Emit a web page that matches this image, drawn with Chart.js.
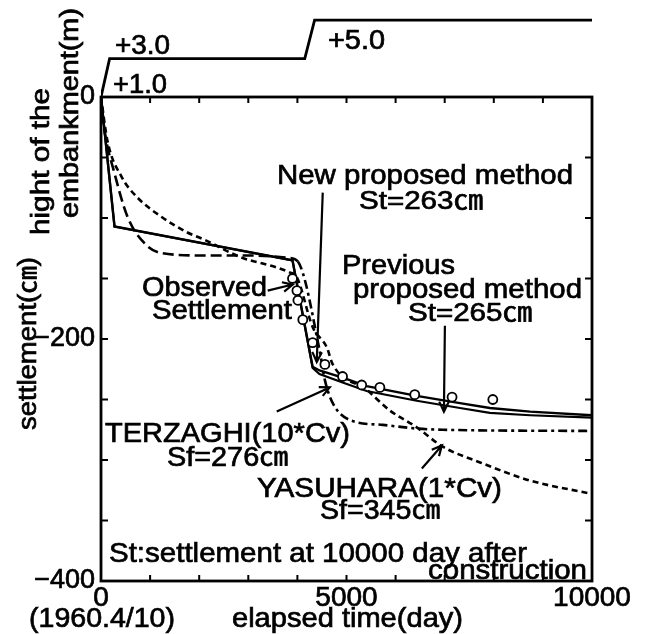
<!DOCTYPE html>
<html>
<head>
<meta charset="utf-8">
<script src="https://cdn.jsdelivr.net/npm/chart.js@4.4.1/dist/chart.umd.min.js"></script>
<style>
html, body { margin: 0; padding: 0; background: #fff; }
#wrap { width: 649px; height: 634px; }
</style>
</head>
<body>
<div id="wrap"><canvas id="chart" width="649" height="634"></canvas></div>
<script>
// settlement curves (day, cm)
const newDays = [0, 275, 3900, 4310, 4450, 4920, 5410, 6430, 7310, 7920, 8740, 10000];
const newCm = [0, -107, -135, -223, -226, -232, -239, -247, -253, -257, -260, -263];

const prevDays = [0, 275, 3900, 4310, 4450, 4920, 5410, 6430, 7310, 7920, 8740, 10000];
const prevCm = [0, -107, -135, -224, -229, -236, -243, -251, -257, -261, -263, -265];

const terzDays = [0, 70, 275, 540, 890, 1230, 2110, 3030, 3840, 4010, 4450, 4560, 4720, 5070, 5740, 6430, 6960, 10000];
const terzCm = [0, -27, -63, -99, -121, -129, -131, -131, -133, -136, -209, -234, -253, -267, -271, -274, -275, -276];

const yasuDays = [0, 130, 420, 740, 1230, 1760, 2110, 2820, 3840, 3990, 4310, 4600, 4720, 5410, 5880, 6430, 6960, 7720, 8740, 10000];
const yasuCm = [0, -36, -66, -83, -99, -112, -118, -132, -145, -149, -190, -207, -221, -242, -259, -273, -289, -302, -317, -328];

const obsDays = [3900, 3990, 4010, 4110, 4310, 4560, 4920, 5310, 5680, 6390, 7150, 7980];
const obsCm = [-150, -160, -168, -184, -203, -221, -231, -238, -240, -246, -248, -250];

// embankment height (m above ground)
const embDays = [0, 175, 4150, 4350, 10000];
const embHeight = [0, 2.0, 2.0, 4.0, 4.0];

// axes
const xTickLabels = [0, 5000, 10000];
const yTickLabels = [0, -200, -400];
const xMinorTicks = [1000, 2000, 3000, 4000, 5000, 6000, 7000, 8000, 9000];
const yMinorTicks = [-50, -100, -150, -200, -250, -300, -350];

const FONT = '"Liberation Sans", Arial, "Noto Sans CJK JP", sans-serif';

function pts(xs, ys) {
    return xs.map((x, i) => ({ x: x, y: ys[i] }));
}

// annotation arrows in data units: [fromDay, fromCm, toDay, toCm]
const arrows = [
    [4516, -79, 4394, -219],
    [7004, -189, 6984, -260],
    [3579, -260, 4659, -240],
    [6535, -307, 6943, -288],
    [3395, -160, 3904, -155]
];

// text: [str, left, baseline, width, size]
const labels = [
    ["New proposed method", 277, 184, 296, 28],
    ["St=263㎝", 359, 209, 124, 26],
    ["Previous", 342, 274, 113, 28],
    ["proposed method", 353, 298, 229, 28],
    ["St=265㎝", 408, 321, 124, 26],
    ["Observed", 142, 296, 125, 27],
    ["Settlement", 152, 319, 140, 27],
    ["TERZAGHI(10*Cv)", 105, 442, 245, 28],
    ["Sf=276㎝", 167, 466, 121, 27],
    ["YASUHARA(1*Cv)", 257, 497, 245, 28],
    ["Sf=345㎝", 320, 519, 120, 27],
    ["St:settlement at 10000 day after", 109, 562, 418, 28],
    ["construction", 428, 579, 159, 28],
    ["+3.0", 115, 54, 55, 27],
    ["+1.0", 113, 93, 54, 27],
    ["+5.0", 328, 49, 57, 27],
    ["elapsed time(day)", 232, 627, 231, 28],
    ["(1960.4/10)", 29, 627, 146, 28]
];
// rotated titles: [str, baselineX, startY, length, size]
const vLabels = [
    ["settlement(㎝)", 36, 430, 173, 25],
    ["hight of the", 49, 235, 147, 25],
    ["embankment(m)", 78, 218, 210, 25]
];

function fitText(ctx, str, x, y, w, size, rot) {
    ctx.save();
    ctx.font = size + 'px ' + FONT;
    ctx.textAlign = 'left';
    ctx.textBaseline = 'alphabetic';
    ctx.fillStyle = '#000';
    ctx.strokeStyle = '#000';
    ctx.lineWidth = 0.7;
    const m = ctx.measureText(str).width;
    ctx.translate(x, y);
    if (rot) ctx.rotate(-Math.PI / 2);
    ctx.scale(w / m, 1);
    ctx.fillText(str, 0, 0);
    ctx.strokeText(str, 0, 0);
    ctx.restore();
}

const framePlugin = {
    id: 'frame',
    beforeDatasetsDraw(chart) {
        const ctx = chart.ctx;
        const sx = chart.scales.x, sy = chart.scales.y;
        const L = sx.getPixelForValue(0), R = sx.getPixelForValue(10000);
        const T = sy.getPixelForValue(0), B = sy.getPixelForValue(-400);
        ctx.save();
        ctx.strokeStyle = '#000';
        ctx.lineWidth = 2.8;
        ctx.strokeRect(L, T, R - L, B - T);
        ctx.lineWidth = 2;
        ctx.beginPath();
        xMinorTicks.forEach(d => {
            const p = sx.getPixelForValue(d);
            ctx.moveTo(p, T); ctx.lineTo(p, T + 6);
            ctx.moveTo(p, B); ctx.lineTo(p, B - 6);
        });
        yMinorTicks.forEach(v => {
            const p = sy.getPixelForValue(v);
            ctx.moveTo(L, p); ctx.lineTo(L + 7, p);
            ctx.moveTo(R, p); ctx.lineTo(R - 7, p);
        });
        ctx.stroke();
        ctx.restore();
    },
    afterDraw(chart) {
        const ctx = chart.ctx;
        const sx = chart.scales.x, sy = chart.scales.y;
        ctx.save();
        ctx.strokeStyle = '#000';
        ctx.lineWidth = 2.2;
        arrows.forEach(a => {
            const x1 = sx.getPixelForValue(a[0]), y1 = sy.getPixelForValue(a[1]);
            const x2 = sx.getPixelForValue(a[2]), y2 = sy.getPixelForValue(a[3]);
            const ang = Math.atan2(y2 - y1, x2 - x1);
            ctx.beginPath();
            ctx.moveTo(x1, y1); ctx.lineTo(x2, y2);
            ctx.moveTo(x2 - 11 * Math.cos(ang - 0.45), y2 - 11 * Math.sin(ang - 0.45));
            ctx.lineTo(x2, y2);
            ctx.lineTo(x2 - 11 * Math.cos(ang + 0.45), y2 - 11 * Math.sin(ang + 0.45));
            ctx.stroke();
        });
        ctx.restore();
        labels.forEach(l => fitText(ctx, l[0], l[1], l[2], l[3], l[4], false));
        vLabels.forEach(l => fitText(ctx, l[0], l[1], l[2], l[3], l[4], true));
    }
};

const ctx = document.getElementById('chart').getContext('2d');
new Chart(ctx, {
    type: 'scatter',
    data: {
        datasets: [
            {
                label: 'Observed',
                data: pts(obsDays, obsCm),
                yAxisID: 'y',
                showLine: false,
                pointRadius: 4.5,
                pointBorderWidth: 1.8,
                pointBorderColor: '#000',
                pointBackgroundColor: '#fff'
            },
            {
                label: 'New proposed method',
                data: pts(newDays, newCm),
                yAxisID: 'y',
                showLine: true,
                borderColor: '#000',
                borderWidth: 2.4,
                pointRadius: 0
            },
            {
                label: 'Previous proposed method',
                data: pts(prevDays, prevCm),
                yAxisID: 'y',
                showLine: true,
                borderColor: '#000',
                borderWidth: 2.2,
                pointRadius: 0
            },
            {
                label: 'TERZAGHI(10*Cv)',
                data: pts(terzDays, terzCm),
                yAxisID: 'y',
                showLine: true,
                borderColor: '#000',
                borderWidth: 2.6,
                borderDash: [9, 4, 3, 4],
                segment: {
                    borderDash: c => c.p0DataIndex < 9 ? [11, 5] : [9, 4, 3, 4]
                },
                cubicInterpolationMode: 'monotone',
                pointRadius: 0
            },
            {
                label: 'YASUHARA(1*Cv)',
                data: pts(yasuDays, yasuCm),
                yAxisID: 'y',
                showLine: true,
                borderColor: '#000',
                borderWidth: 2.6,
                borderDash: [6, 4],
                cubicInterpolationMode: 'monotone',
                pointRadius: 0
            },
            {
                label: 'embankment',
                data: pts(embDays, embHeight),
                yAxisID: 'yEmb',
                showLine: true,
                borderColor: '#000',
                borderWidth: 2.8,
                pointRadius: 0
            }
        ]
    },
    options: {
        responsive: false,
        animation: false,
        devicePixelRatio: 1,
        layout: { padding: { top: 14, right: 57, left: 0, bottom: 0 } },
        plugins: {
            legend: { display: false },
            tooltip: { enabled: false }
        },
        scales: {
            x: {
                type: 'linear',
                min: 0,
                max: 10000,
                grid: { display: false, drawTicks: false },
                border: { display: false },
                afterBuildTicks: s => { s.ticks = xTickLabels.map(v => ({ value: v })); },
                afterFit: s => { s.height = 53; },
                ticks: {
                    padding: 0,
                    color: '#000',
                    maxRotation: 0,
                    textStrokeColor: '#000',
                    textStrokeWidth: 0.7,
                    font: { family: FONT, size: 28 },
                    callback: v => String(v)
                }
            },
            y: {
                type: 'linear',
                stack: 'left',
                stackWeight: 484,
                min: -400,
                max: 0,
                grid: { display: false, drawTicks: false },
                border: { display: false },
                afterBuildTicks: s => { s.ticks = yTickLabels.map(v => ({ value: v })); },
                afterFit: s => { s.width = 101; s.paddingTop = 0; s.paddingBottom = 0; },
                ticks: {
                    padding: 6,
                    color: '#000',
                    textStrokeColor: '#000',
                    textStrokeWidth: 0.7,
                    font: { family: FONT, size: 27 },
                    callback: v => v < 0 ? '\u2212' + Math.abs(v) : String(v)
                }
            },
            yEmb: {
                type: 'linear',
                position: 'left',
                stack: 'left',
                stackWeight: 83,
                min: 0,
                max: 83 / 19.2,
                grid: { display: false, drawTicks: false },
                border: { display: false },
                afterFit: s => { s.width = 101; s.paddingTop = 0; s.paddingBottom = 0; },
                ticks: { display: false }
            }
        }
    },
    plugins: [framePlugin]
});
</script>
</body>
</html>
